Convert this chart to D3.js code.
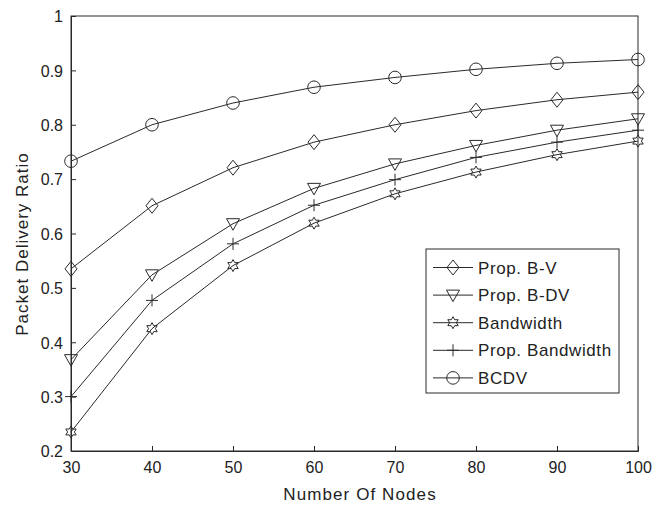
<!DOCTYPE html>
<html><head><meta charset="utf-8">
<script src="https://cdn.jsdelivr.net/npm/d3@7"></script>
<style>body{margin:0;background:#fff}svg{display:block}text{font-family:"Liberation Sans",Arial,sans-serif;fill:#222}</style>
</head><body>
<svg id="c" width="663" height="506"></svg>
<script>
const nodes = [30, 40, 50, 60, 70, 80, 90, 100];
const propBV = [0.535, 0.651, 0.721, 0.768, 0.800, 0.826, 0.846, 0.860];
const propBDV = [0.368, 0.524, 0.618, 0.683, 0.728, 0.762, 0.790, 0.811];
const bandwidth = [0.235, 0.425, 0.541, 0.619, 0.673, 0.713, 0.745, 0.770];
const propBandwidth = [0.300, 0.477, 0.581, 0.652, 0.699, 0.740, 0.768, 0.790];
const bcdv = [0.733, 0.800, 0.840, 0.869, 0.887, 0.902, 0.913, 0.920];
const seriesNames = ["Prop. B-V", "Prop. B-DV", "Bandwidth", "Prop. Bandwidth", "BCDV"];
const seriesMarkers = ["diamond", "triangle", "star", "plus", "circle"];
const xTicks = [30, 40, 50, 60, 70, 80, 90, 100];
const yTicks = [0.2, 0.3, 0.4, 0.5, 0.6, 0.7, 0.8, 0.9, 1];

const series = [propBV, propBDV, bandwidth, propBandwidth, bcdv];
const svg = d3.select("#c");
const L = 71, R = 638, T = 16, B = 451;
const FS = "16px", FL = "17px";
const x = d3.scaleLinear().domain([30, 100]).range([L, R]);
const y = d3.scaleLinear().domain([0.2, 1]).range([B, T]);
const stroke = "#2a2a2a";

svg.append("rect").attr("x", L).attr("y", T).attr("width", R - L).attr("height", B - T)
  .attr("fill", "none").attr("stroke", stroke).attr("stroke-width", 1);

const xAxis = d3.axisBottom(x).tickValues(xTicks).tickSize(-5).tickPadding(10).tickFormat(d3.format("d"));
const gx = svg.append("g").attr("transform", `translate(0,${B})`).call(xAxis);
const yAxis = d3.axisLeft(y).tickValues(yTicks).tickSize(-5).tickPadding(8).tickFormat(d => d === 1 ? "1" : d3.format(".1f")(d));
const gy = svg.append("g").attr("transform", `translate(${L},0)`).call(yAxis);
[gx, gy].forEach(g => {
  g.select(".domain").attr("stroke", stroke);
  g.selectAll(".tick line").attr("stroke", stroke);
  g.selectAll(".tick text").style("font-size", FS).attr("fill", "#222");
});
gx.selectAll(".tick text").attr("dy", "0").attr("y", 21.5);
gy.selectAll(".tick text").attr("dy", "0.36em");

svg.append("text").attr("x", 360).attr("y", 500).attr("text-anchor", "middle")
  .style("font-size", FL).style("letter-spacing", "1.1px").text("Number Of Nodes");
svg.append("text").attr("transform", `translate(28,244) rotate(-90)`).attr("text-anchor", "middle")
  .style("font-size", FL).style("letter-spacing", "1px").text("Packet Delivery Ratio");

function marker(g, type) {
  if (type === "circle") g.append("circle").attr("r", 6.3).attr("fill", "none").attr("stroke", stroke);
  else if (type === "diamond") g.append("path").attr("d", "M0,-7.5L6,0L0,7.5L-6,0Z").attr("fill", "none").attr("stroke", stroke);
  else if (type === "triangle") g.append("path").attr("d", "M-6.5,-5L6.5,-5L0,6.5Z").attr("fill", "none").attr("stroke", stroke);
  else if (type === "plus") g.append("path").attr("d", "M-6,0H6M0,-6V6").attr("fill", "none").attr("stroke", stroke);
  else if (type === "star") {
    const r1 = 6, r2 = 3.4; const pts = [];
    for (let i = 0; i < 12; i++) { const a = -Math.PI / 2 + i * Math.PI / 6; const r = i % 2 ? r2 : r1; pts.push([r * Math.cos(a), r * Math.sin(a)]); }
    g.append("path").attr("d", "M" + pts.map(p => p.join(",")).join("L") + "Z").attr("fill", "none").attr("stroke", stroke);
  }
}

const line = d3.line().x((d, i) => x(nodes[i])).y(d => y(d));
series.forEach((vals, si) => {
  svg.append("path").datum(vals).attr("d", line).attr("fill", "none").attr("stroke", stroke).attr("stroke-width", 1);
  vals.forEach((v, i) => {
    const g = svg.append("g").attr("transform", `translate(${x(nodes[i])},${y(v)})`);
    marker(g, seriesMarkers[si]);
  });
});

const lg = svg.append("g");
lg.append("rect").attr("x", 426).attr("y", 249).attr("width", 193).attr("height", 144)
  .attr("fill", "#fff").attr("stroke", stroke);
seriesNames.forEach((name, i) => {
  const yy = 267.5 + i * 27.6;
  lg.append("line").attr("x1", 433).attr("x2", 473).attr("y1", yy).attr("y2", yy).attr("stroke", stroke);
  const g = lg.append("g").attr("transform", `translate(453,${yy})`);
  marker(g, seriesMarkers[i]);
  lg.append("text").attr("x", 478).attr("y", yy).attr("dy", "0.36em").style("font-size", FL)
    .style("letter-spacing", "0.6px").text(name);
});
</script>
</body></html>
